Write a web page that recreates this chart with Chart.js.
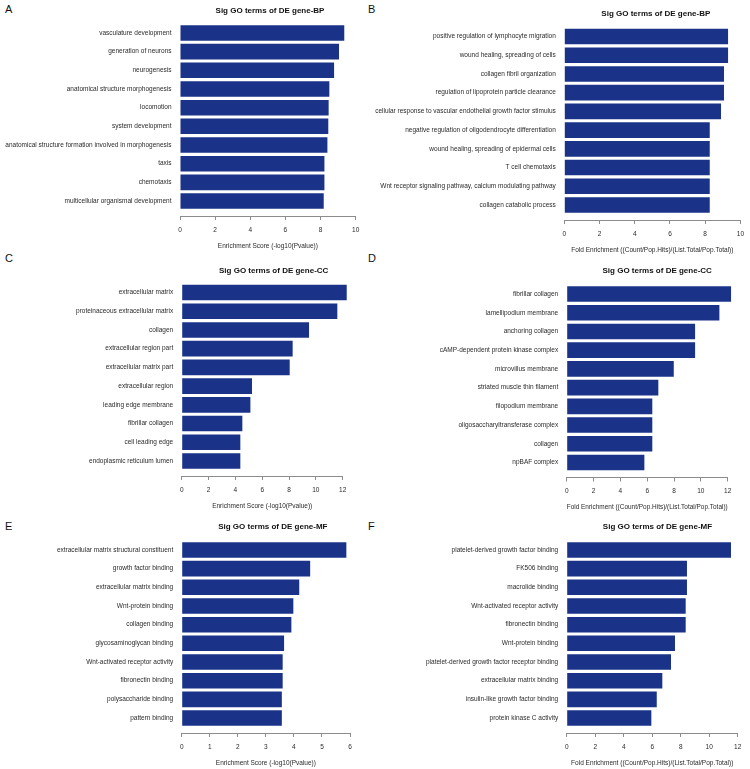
<!DOCTYPE html>
<html lang="en">
<head>
<meta charset="UTF-8">
<title>Sig GO terms of DE genes</title>
<script src="https://cdn.jsdelivr.net/npm/chart.js@4.4.1/dist/chart.umd.min.js"></script>
<style>
    body { margin: 0; background: #fff; }
    #wrap { position: relative; width: 750px; height: 769px; overflow: hidden; }
    canvas { position: absolute; }
    .tag { position: absolute; font: 11px "Liberation Sans", Arial, sans-serif; line-height: 11px; color: #111; }
</style>
</head>
<body>
<div id="wrap">
    <div class="tag" style="left:5px;top:4px">A</div>
    <div class="tag" style="left:368px;top:4px">B</div>
    <div class="tag" style="left:5px;top:253px">C</div>
    <div class="tag" style="left:368px;top:253px">D</div>
    <div class="tag" style="left:5px;top:521px">E</div>
    <div class="tag" style="left:368px;top:521px">F</div>
</div>

<script>
// Panel A - BP, enrichment score
const termsA = ['vasculature development', 'generation of neurons', 'neurogenesis',
    'anatomical structure morphogenesis', 'locomotion', 'system development',
    'anatomical structure formation involved in morphogenesis', 'taxis', 'chemotaxis',
    'multicellular organismal development'];
const valuesA = [9.35, 9.05, 8.77, 8.50, 8.46, 8.44, 8.39, 8.22, 8.22, 8.18];
const ticksA = [0, 2, 4, 6, 8, 10];

// Panel B - BP, fold enrichment
const termsB = ['positive regulation of lymphocyte migration', 'wound healing, spreading of cells',
    'collagen fibril organization', 'regulation of lipoprotein particle clearance',
    'cellular response to vascular endothelial growth factor stimulus',
    'negative regulation of oligodendrocyte differentiation', 'wound healing, spreading of epidermal cells',
    'T cell chemotaxis', 'Wnt receptor signaling pathway, calcium modulating pathway',
    'collagen catabolic process'];
const valuesB = [9.30, 9.30, 9.07, 9.07, 8.90, 8.26, 8.26, 8.26, 8.26, 8.26];
const ticksB = [0, 2, 4, 6, 8, 10];

// Panel C - CC, enrichment score
const termsC = ['extracellular matrix', 'proteinaceous extracellular matrix', 'collagen',
    'extracellular region part', 'extracellular matrix part', 'extracellular region',
    'leading edge membrane', 'fibrillar collagen', 'cell leading edge', 'endoplasmic reticulum lumen'];
const valuesC = [12.30, 11.60, 9.49, 8.27, 8.05, 5.24, 5.12, 4.52, 4.37, 4.37];
const ticksC = [0, 2, 4, 6, 8, 10, 12];

// Panel D - CC, fold enrichment
const termsD = ['fibrillar collagen', 'lamellipodium membrane', 'anchoring collagen',
    'cAMP-dependent protein kinase complex', 'microvillus membrane', 'striated muscle thin filament',
    'filopodium membrane', 'oligosaccharyltransferase complex', 'collagen', 'npBAF complex'];
const valuesD = [12.25, 11.38, 9.57, 9.57, 7.98, 6.83, 6.38, 6.38, 6.38, 5.79];
const ticksD = [0, 2, 4, 6, 8, 10, 12];

// Panel E - MF, enrichment score
const termsE = ['extracellular matrix structural constituent', 'growth factor binding',
    'extracellular matrix binding', 'Wnt-protein binding', 'collagen binding',
    'glycosaminoglycan binding', 'Wnt-activated receptor activity', 'fibronectin binding',
    'polysaccharide binding', 'pattern binding'];
const valuesE = [5.87, 4.58, 4.19, 3.98, 3.91, 3.65, 3.60, 3.60, 3.57, 3.57];
const ticksE = [0, 1, 2, 3, 4, 5, 6];

// Panel F - MF, fold enrichment
const termsF = ['platelet-derived growth factor binding', 'FK506 binding', 'macrolide binding',
    'Wnt-activated receptor activity', 'fibronectin binding', 'Wnt-protein binding',
    'platelet-derived growth factor receptor binding', 'extracellular matrix binding',
    'insulin-like growth factor binding', 'protein kinase C activity'];
const valuesF = [11.53, 8.44, 8.44, 8.35, 8.35, 7.60, 7.32, 6.71, 6.32, 5.94];
const ticksF = [0, 2, 4, 6, 8, 10, 12];

const SCORE = 'Enrichment Score (-log10(Pvalue))';
const FOLD = 'Fold Enrichment ((Count/Pop.Hits)/(List.Total/Pop.Total))';

const BAR = '#1a3388';
const AXIS = '#8c8c8c';
const TEXT = '#2a2a2a';
Chart.defaults.font.family = '"Liberation Sans", Arial, sans-serif';

// title drawn over the plot region like R's main=
const panelTitle = {
    id: 'panelTitle',
    afterDraw(chart, args, o) {
        const ctx = chart.ctx;
        ctx.save();
        ctx.font = 'bold 8px "Liberation Sans", Arial, sans-serif';
        ctx.fillStyle = '#111';
        ctx.textAlign = 'center';
        ctx.textBaseline = 'middle';
        ctx.fillText(o.text, o.x, o.y);
        ctx.restore();
    }
};

// box: canvas position, area: plot area in page pixels
function panel(terms, values, ticks, title, xTitle, box, area, head) {
    const cv = document.createElement('canvas');
    cv.width = box.w; cv.height = box.h;
    cv.style.left = box.x + 'px'; cv.style.top = box.y + 'px';
    document.getElementById('wrap').appendChild(cv);

    new Chart(cv, {
        type: 'bar',
        data: {
            datasets: [{
                data: values.map((v, i) => ({ x: v, y: i })),
                backgroundColor: BAR,
                categoryPercentage: 1,
                barPercentage: 0.833,
                clip: false
            }]
        },
        options: {
            indexAxis: 'y',
            responsive: false,
            animation: false,
            devicePixelRatio: 1,
            layout: {
                padding: {
                    left: 0,
                    top: area.t - box.y,
                    right: box.w - (area.r - box.x),
                    bottom: box.h - (area.b - box.y) - 34
                }
            },
            plugins: {
                legend: { display: false },
                tooltip: { enabled: false },
                panelTitle: { text: title, x: head.x - box.x, y: head.y - box.y }
            },
            scales: {
                x: {
                    type: 'linear',
                    min: ticks[0],
                    max: ticks[ticks.length - 1],
                    ticks: { stepSize: ticks[1] - ticks[0], color: TEXT, font: { size: 6.5 }, padding: 6 },
                    grid: { drawOnChartArea: false, tickLength: 4, color: AXIS },
                    border: { color: AXIS },
                    title: { display: true, text: xTitle, color: TEXT, font: { size: 6.5 }, padding: { top: 0, bottom: 0 } },
                    afterFit: s => { s.height = 34; }
                },
                y: {
                    type: 'linear',
                    reverse: true,
                    offset: false,
                    bounds: 'data',
                    min: -0.8,
                    max: 9.8,
                    afterBuildTicks: s => { s.ticks = terms.map((t, i) => ({ value: i })); },
                    ticks: {
                        autoSkip: false,
                        color: TEXT,
                        font: { size: 6.5 },
                        padding: 8.5,
                        callback: v => terms[v]
                    },
                    grid: { display: false, drawTicks: false, offset: false },
                    border: { display: false },
                    afterFit: s => { s.width = area.l - box.x; }
                }
            }
        },
        plugins: [panelTitle]
    });
}

panel(termsA, valuesA, ticksA, 'Sig GO terms of DE gene-BP', SCORE,
    { x: 0, y: 0, w: 375, h: 256 }, { l: 180, r: 355.7, t: 18, b: 216 }, { x: 270, y: 10.7 });
panel(termsB, valuesB, ticksB, 'Sig GO terms of DE gene-BP', FOLD,
    { x: 360, y: 0, w: 390, h: 256 }, { l: 564.3, r: 740.7, t: 21.5, b: 220 }, { x: 655.8, y: 14.2 });
panel(termsC, valuesC, ticksC, 'Sig GO terms of DE gene-CC', SCORE,
    { x: 0, y: 256, w: 375, h: 256 }, { l: 181.7, r: 342.7, t: 277.5, b: 476 }, { x: 273.7, y: 270.3 });
panel(termsD, valuesD, ticksD, 'Sig GO terms of DE gene-CC', FOLD,
    { x: 360, y: 256, w: 390, h: 256 }, { l: 566.7, r: 727.7, t: 279, b: 477.5 }, { x: 657.2, y: 270.3 });
panel(termsE, valuesE, ticksE, 'Sig GO terms of DE gene-MF', SCORE,
    { x: 0, y: 512, w: 375, h: 257 }, { l: 181.7, r: 350, t: 535, b: 733 }, { x: 272.8, y: 527 });
panel(termsF, valuesF, ticksF, 'Sig GO terms of DE gene-MF', FOLD,
    { x: 360, y: 512, w: 390, h: 257 }, { l: 566.7, r: 737.7, t: 535, b: 733 }, { x: 657.5, y: 527 });
</script>
</body>
</html>
